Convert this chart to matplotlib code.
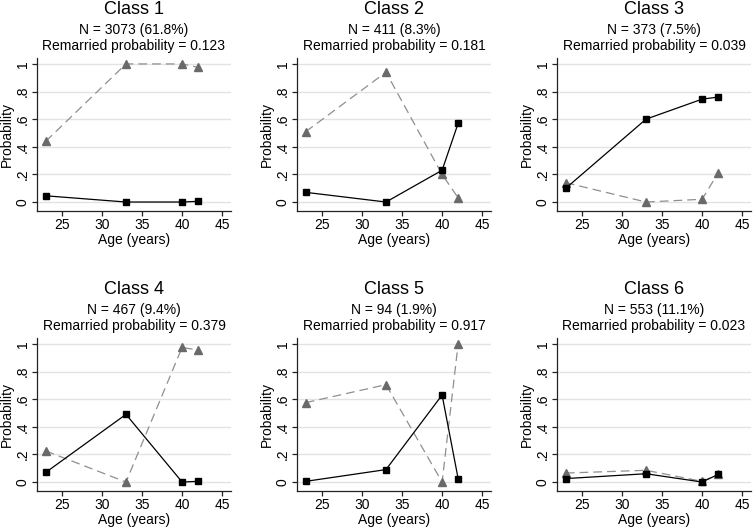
import matplotlib
matplotlib.use('Agg')

import matplotlib.pyplot as plt

plt.rcParams['font.family'] = ['Liberation Sans', 'DejaVu Sans']

# Возраст (годы) — общие точки по оси X
ages = [23, 33, 40, 42]

class_titles = ['Class 1', 'Class 2', 'Class 3', 'Class 4', 'Class 5', 'Class 6']
class_n = ['N = 3073 (61.8%)', 'N = 411 (8.3%)', 'N = 373 (7.5%)',
           'N = 467 (9.4%)', 'N = 94 (1.9%)', 'N = 553 (11.1%)']
remarried_prob = ['0.123', '0.181', '0.039', '0.379', '0.917', '0.023']

# Чёрная сплошная линия (квадраты)
solid_values = [
    [0.045, 0.0, 0.0, 0.005],
    [0.07, 0.0, 0.23, 0.57],
    [0.10, 0.60, 0.745, 0.76],
    [0.07, 0.49, 0.0, 0.005],
    [0.005, 0.09, 0.63, 0.025],
    [0.025, 0.06, 0.0, 0.055],
]
# Серая пунктирная линия (треугольники)
dashed_values = [
    [0.44, 1.0, 1.0, 0.975],
    [0.51, 0.94, 0.20, 0.03],
    [0.14, 0.0, 0.02, 0.21],
    [0.225, 0.0, 0.975, 0.955],
    [0.575, 0.705, 0.0, 1.0],
    [0.065, 0.085, 0.005, 0.055],
]

yticks = [0, 0.2, 0.4, 0.6, 0.8, 1.0]
ytick_labels = ['0', '.2', '.4', '.6', '.8', '1']
xticks = [25, 30, 35, 40, 45]

W, H = 753, 528
fig = plt.figure(figsize=(W / 100, H / 100), dpi=100)

lefts = [37, 297, 557]
tops = [58, 338]
ax_w, ax_h = 194, 153

for i in range(6):
    row, col = divmod(i, 3)
    left = lefts[col] / W
    bottom = 1 - (tops[row] + ax_h) / H
    ax = fig.add_axes([left, bottom, ax_w / W, ax_h / H])

    ax.set_xlim(21.9, 46.1)
    ax.set_ylim(-0.065, 1.043)
    ax.set_yticks(yticks)
    ax.set_yticklabels(ytick_labels)
    ax.set_xticks(xticks)
    ax.grid(axis='y', color='#e3e3e3', linewidth=1.0)
    ax.set_axisbelow(True)

    for s in ['top', 'right']:
        ax.spines[s].set_visible(False)
    for s in ['left', 'bottom']:
        ax.spines[s].set_color('#222222')
        ax.spines[s].set_linewidth(0.9)

    ax.tick_params(axis='both', length=3.6, width=0.9, color='#222222', labelsize=10)
    ax.tick_params(axis='y', labelrotation=90, pad=1.5)
    ax.tick_params(axis='x', pad=1.5)
    for lbl in ax.get_yticklabels():
        lbl.set_verticalalignment('center')

    ax.plot(ages, dashed_values[i], color='#8f8f8f', linewidth=0.9,
            dashes=(7, 4), marker='^', markersize=5.5,
            markerfacecolor='#6a6a6a', markeredgecolor='#6a6a6a', zorder=3)
    ax.plot(ages, solid_values[i], color='black', linewidth=0.9,
            marker='s', markersize=4.5, markerfacecolor='black',
            markeredgecolor='black', zorder=4)

    ax.set_xlabel('Age (years)', fontsize=10, labelpad=0.5)
    ax.set_ylabel('Probability', fontsize=10)
    ax.yaxis.set_label_coords(-30 / ax_w, 0.5)
    ax.yaxis.label.set_verticalalignment('center')

    ax.text(0.5, 1.32, class_titles[i], transform=ax.transAxes,
            ha='center', va='center', fontsize=13)
    ax.text(0.5, 1.18, class_n[i], transform=ax.transAxes,
            ha='center', va='center', fontsize=10)
    ax.text(0.5, 1.08, 'Remarried probability = ' + remarried_prob[i],
            transform=ax.transAxes, ha='center', va='center', fontsize=10)

plt.savefig('out.png', dpi=100)
